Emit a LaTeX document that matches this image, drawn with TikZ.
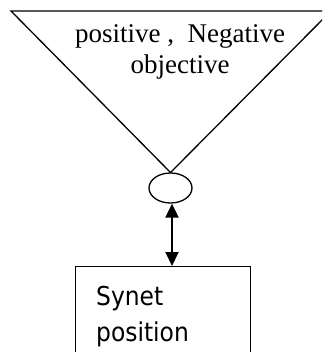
\documentclass[tikz,border=0pt]{standalone}
\usepackage{fontspec}
\setmainfont{Liberation Serif}
\newfontfamily\boxfont{DejaVu Sans Condensed}
\usetikzlibrary{shapes.geometric,arrows.meta}
\begin{document}
\begin{tikzpicture}[x=1pt,y=-1pt,
  outline/.style={draw=black,line width=1.3pt},
  toptext/.style={font=\fontsize{27}{31}\selectfont,align=center,inner sep=0pt,anchor=base},
  boxtext/.style={font=\boxfont\fontsize{26}{36}\selectfont,align=left,inner sep=0pt,anchor=base west},
  link/.style={line width=2pt,{Triangle[length=14pt,width=13pt]}-{Triangle[length=14pt,width=13pt]}}]
\useasboundingbox (0,0) rectangle (322,352);
\begin{scope}
\clip (0,0) rectangle (322,352);
\coordinate (tl) at (11,11);
\coordinate (tr) at (331,11);
\coordinate (apex) at (170.5,172.5);
\draw[outline,line join=miter] (tl) -- (tr) -- (apex) -- cycle;
\node[toptext] (t1) at (180,43) {positive ,\ \ Negative};
\node[toptext] (t2) at (180,74) {objective};
\node[ellipse,outline,minimum width=43pt,minimum height=30pt,inner sep=0pt] (ell) at (170.5,188) {};
\node[rectangle,outline,minimum width=175pt,minimum height=120pt,anchor=north west,inner sep=0pt] (box) at (75,266) {};
\node[boxtext] (s1) at (96,305) {Synet};
\node[boxtext] (s2) at (96,341) {position};
\draw[link] (ell.south -| 172,0) -- (box.north -| 172,0);
\end{scope}
\end{tikzpicture}
\end{document}
